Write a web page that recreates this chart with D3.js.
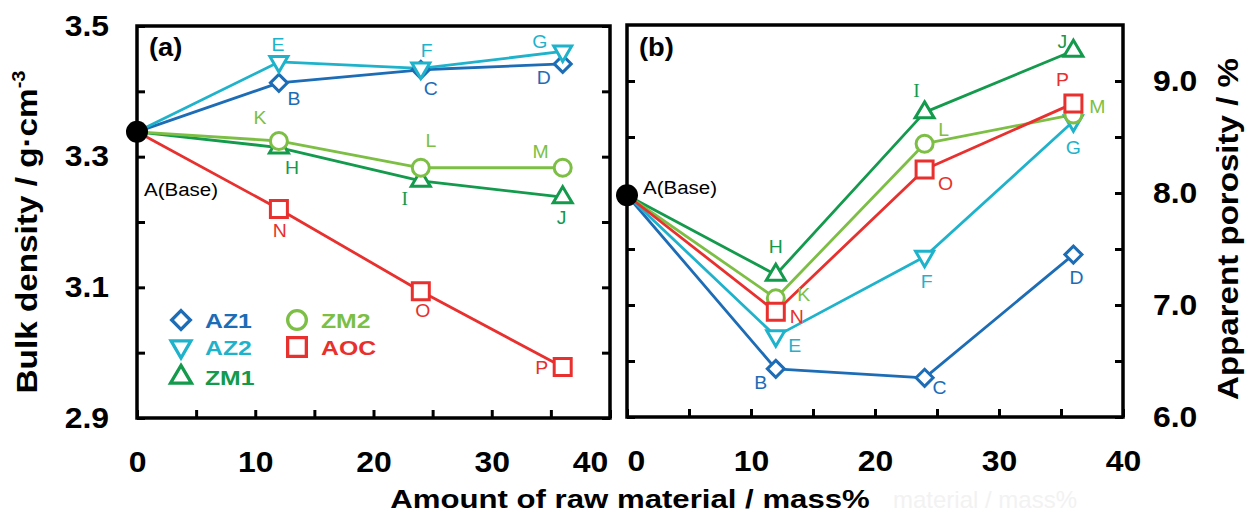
<!DOCTYPE html>
<html><head><meta charset="utf-8">
<script src="https://cdn.jsdelivr.net/npm/d3@7"></script>
<style>body{margin:0;background:#fff} svg{display:block}</style>
</head><body><svg id="chart" width="1246" height="513"></svg>
<script>
// ---------- data ----------
const amounts = [0, 12, 24, 36];
const seriesNames = ["AZ1", "AZ2", "ZM1", "ZM2", "AOC"];

const bulkAZ1 = [3.338, 3.413, 3.433, 3.442];
const bulkAZ2 = [3.338, 3.445, 3.435, 3.461];
const bulkZM1 = [3.338, 3.314, 3.263, 3.238];
const bulkZM2 = [3.338, 3.324, 3.283, 3.283];
const bulkAOC = [3.338, 3.220, 3.094, 2.978];

const porosityAZ1 = [7.98, 6.43, 6.35, 7.45];
const porosityAZ2 = [7.98, 6.72, 7.43, 8.64];
const porosityZM1 = [7.98, 7.27, 8.72, 9.27];
const porosityZM2 = [7.98, 7.06, 8.44, 8.70];
const porosityAOC = [7.98, 6.94, 8.21, 8.80];

const lettersAZ1 = ["B", "C", "D"];
const lettersAZ2 = ["E", "F", "G"];
const lettersZM1 = ["H", "I", "J"];
const lettersZM2 = ["K", "L", "M"];
const lettersAOC = ["N", "O", "P"];
const baseLabel = "A(Base)";

const xTickValues = [0, 5, 10, 15, 20, 25, 30, 35, 40];
const xTickLabels = [0, 10, 20, 30, 40];
const bulkTickValues = [2.9, 3.0, 3.1, 3.2, 3.3, 3.4, 3.5];
const bulkTickLabels = ["2.9", "3.1", "3.3", "3.5"];
const porosityTickValues = [6.0, 6.5, 7.0, 7.5, 8.0, 8.5, 9.0];
const porosityTickLabels = ["6.0", "7.0", "8.0", "9.0"];

const xTitle = "Amount of raw material / mass%";
const bulkTitle = "Bulk density / g\u00B7cm";
const bulkTitleSup = "-3";
const porosityTitle = "Apparent porosity / %";

// ---------- styles / layout ----------
const colors = {AZ1: "#1c6cb6", AZ2: "#1fb2cb", ZM1: "#139a4c", ZM2: "#7cbf44", AOC: "#e8302e"};
const shapes = {
  AZ1: "M0,-8.5L8.5,0L0,8.5L-8.5,0Z",
  AZ2: "M-9,-5.5L9,-5.5L0,10Z",
  ZM1: "M0,-10.5L9.5,5.5L-9.5,5.5Z",
  ZM2: "M8.5,0A8.5,8.5 0 1,1 -8.5,0A8.5,8.5 0 1,1 8.5,0Z",
  AOC: "M-8.5,-8.5H8.5V8.5H-8.5Z"
};
const FONT = "'Liberation Sans', Arial, Helvetica, sans-serif";
const offsetsA = {B:[15,16],C:[10,19],D:[-19,14],E:[-1,-17],F:[6,-18],G:[-23,-10],
  H:[13,20],I:[-16,18],J:[-1,21],K:[-19,-23],L:[10,-27],M:[-22,-16],N:[1,22],O:[2,19],P:[-21,1]};
const offsetsB = {B:[-15,14],C:[15,10],D:[3,23],E:[19,9],F:[2,25],G:[0,26],
  H:[0,-28],I:[-8,-22],J:[-11,-9],K:[28,-4],L:[19,-14],M:[24,-8],N:[21,5],O:[21,14],P:[-11,-24]};

const svg = d3.select("#chart");
const xA = d3.scaleLinear().domain([0, 40]).range([137, 610]);
const yA = d3.scaleLinear().domain([2.9, 3.5]).range([418, 26]);
const xB = d3.scaleLinear().domain([0, 40]).range([627, 1123]);
const yB = d3.scaleLinear().domain([6, 9.5]).range([417, 25]);

function stretch(sel, sx) {
  sel.each(function () {
    const t = d3.select(this);
    const x = +t.attr("x") || 0;
    t.attr("transform", `translate(${x * (1 - sx)},0) scale(${sx},1)`);
  });
}
function styleAxis(g) {
  g.attr("font-family", FONT).attr("font-size", 29).attr("font-weight", "bold");
  g.select(".domain").remove();
  g.selectAll(".tick line").attr("stroke", "#000").attr("stroke-width", 3);
  g.selectAll(".tick text").attr("fill", "#000");
  stretch(g.selectAll(".tick text"), 1.1);
}

function drawPanel(x, y, seriesValues, seriesLetters, offsets, yTicks, yLabels, yFmt, leftLabels, panelName) {
  const [x0, x1] = x.range();
  const [yb, yt] = y.range();
  const fmtX = d => xTickLabels.includes(d) ? String(d) : "";
  const fmtY = d => yLabels.includes(yFmt(d)) ? yFmt(d) : "";

  const gx = svg.append("g").attr("transform", `translate(0,${yb})`)
    .call(d3.axisBottom(x).tickValues(xTickValues).tickSize(-8).tickPadding(33).tickFormat(fmtX));
  gx.selectAll(".tick text").filter(d => leftLabels && d === 40).attr("x", -20);
  gx.selectAll(".tick text").filter(d => !leftLabels && d === 0).attr("x", 9);
  styleAxis(gx);

  const gl = svg.append("g").attr("transform", `translate(${x0},0)`)
    .call(d3.axisLeft(y).tickValues(yTicks).tickSize(-8).tickPadding(28).tickFormat(leftLabels ? fmtY : () => ""));
  styleAxis(gl);
  const gr = svg.append("g").attr("transform", `translate(${x1},0)`)
    .call(d3.axisRight(y).tickValues(yTicks).tickSize(-8).tickPadding(30).tickFormat(leftLabels ? () => "" : fmtY));
  styleAxis(gr);

  svg.append("rect").attr("x", x0).attr("y", yt).attr("width", x1 - x0).attr("height", yb - yt)
    .attr("fill", "none").attr("stroke", "#000").attr("stroke-width", 3.5);

  const tag = svg.append("text").attr("x", x0 + 12).attr("y", 56).attr("font-family", FONT)
    .attr("font-weight", "bold").attr("font-size", 26).text(panelName);
  stretch(tag, 1.05);

  const line = d3.line().x(d => x(d[0])).y(d => y(d[1]));
  seriesNames.forEach((name, i) => {
    const pts = seriesValues[i].map((v, j) => [amounts[j], v]);
    svg.append("path").attr("d", line(pts)).attr("fill", "none")
      .attr("stroke", colors[name]).attr("stroke-width", 2.8).attr("stroke-linejoin", "round");
  });
  seriesNames.forEach((name, i) => {
    const pts = seriesValues[i].map((v, j) => [amounts[j], v]).slice(1);
    svg.selectAll(null).data(pts).enter().append("path")
      .attr("d", shapes[name]).attr("transform", d => `translate(${x(d[0])},${y(d[1])})`)
      .attr("fill", "#fff").attr("stroke", colors[name]).attr("stroke-width", 3);
    pts.forEach((d, j) => {
      const letter = seriesLetters[i][j];
      const off = offsets[letter];
      const t = svg.append("text").attr("x", x(d[0]) + off[0]).attr("y", y(d[1]) + off[1])
        .attr("dy", "0.35em").attr("text-anchor", "middle")
        .attr("font-family", letter === "I" ? "'Liberation Serif', serif" : FONT)
        .attr("font-size", 18).attr("fill", colors[name]).text(letter);
      stretch(t, 1.08);
    });
  });
  svg.append("circle").attr("cx", x(amounts[0])).attr("cy", y(seriesValues[0][0])).attr("r", 11).attr("fill", "#000");
}

drawPanel(xA, yA, [bulkAZ1, bulkAZ2, bulkZM1, bulkZM2, bulkAOC],
  [lettersAZ1, lettersAZ2, lettersZM1, lettersZM2, lettersAOC], offsetsA,
  bulkTickValues, bulkTickLabels, d3.format(".1f"), true, "(a)");
drawPanel(xB, yB, [porosityAZ1, porosityAZ2, porosityZM1, porosityZM2, porosityAOC],
  [lettersAZ1, lettersAZ2, lettersZM1, lettersZM2, lettersAOC], offsetsB,
  porosityTickValues, porosityTickLabels, d3.format(".1f"), false, "(b)");

const baseA = svg.append("text").attr("x", 144).attr("y", yA(bulkAZ1[0]) + 58).attr("dy", "0.35em")
  .attr("font-family", FONT).attr("font-size", 19).attr("fill", "#000").text(baseLabel);
stretch(baseA, 1.08);
const baseB = svg.append("text").attr("x", 643).attr("y", yB(porosityAZ1[0]) - 8).attr("dy", "0.35em")
  .attr("font-family", FONT).attr("font-size", 19).attr("fill", "#000").text(baseLabel);
stretch(baseB, 1.08);

const legendItems = [
  {name: "AZ1", mx: 181, my: 320}, {name: "AZ2", mx: 181, my: 347}, {name: "ZM1", mx: 181, my: 377},
  {name: "ZM2", mx: 297, my: 320}, {name: "AOC", mx: 297, my: 347}
];
legendItems.forEach(it => {
  svg.append("path").attr("d", shapes[it.name]).attr("transform", `translate(${it.mx},${it.my}) scale(1.1)`)
    .attr("fill", "#fff").attr("stroke", colors[it.name]).attr("stroke-width", 3);
  const t = svg.append("text").attr("x", it.mx + 24).attr("y", it.my).attr("dy", "0.36em")
    .attr("font-family", FONT).attr("font-weight", "bold").attr("font-size", 21)
    .attr("fill", colors[it.name]).text(it.name);
  stretch(t, 1.18);
});

function fitTitle(el, target) {
  const len = el.node().getComputedTextLength();
  return target / len;
}
const xt = svg.append("text").attr("font-family", FONT).attr("font-weight", "bold").attr("font-size", 26)
  .attr("text-anchor", "middle").text(xTitle);
const sxT = fitTitle(xt, 480);
xt.attr("transform", `translate(630,508) scale(${sxT},1)`);

const lt = svg.append("text").attr("font-family", FONT).attr("font-weight", "bold").attr("font-size", 30)
  .attr("text-anchor", "middle");
lt.append("tspan").text(bulkTitle);
lt.append("tspan").attr("font-size", 18).attr("dy", -12).text(bulkTitleSup);
const sxL = fitTitle(lt, 323);
lt.attr("transform", `translate(37,232) rotate(-90) scale(${sxL},1)`);

const rt = svg.append("text").attr("font-family", FONT).attr("font-weight", "bold").attr("font-size", 29)
  .attr("text-anchor", "middle").text(porosityTitle);
const sxR = fitTitle(rt, 342);
rt.attr("transform", `translate(1238,229) rotate(-90) scale(${sxR},1)`);

svg.append("text").attr("x", 985).attr("y", 508).attr("text-anchor", "middle")
  .attr("font-family", FONT).attr("font-size", 24).attr("fill", "#f2f2f2").text("material / mass%");
</script>
</body></html>
